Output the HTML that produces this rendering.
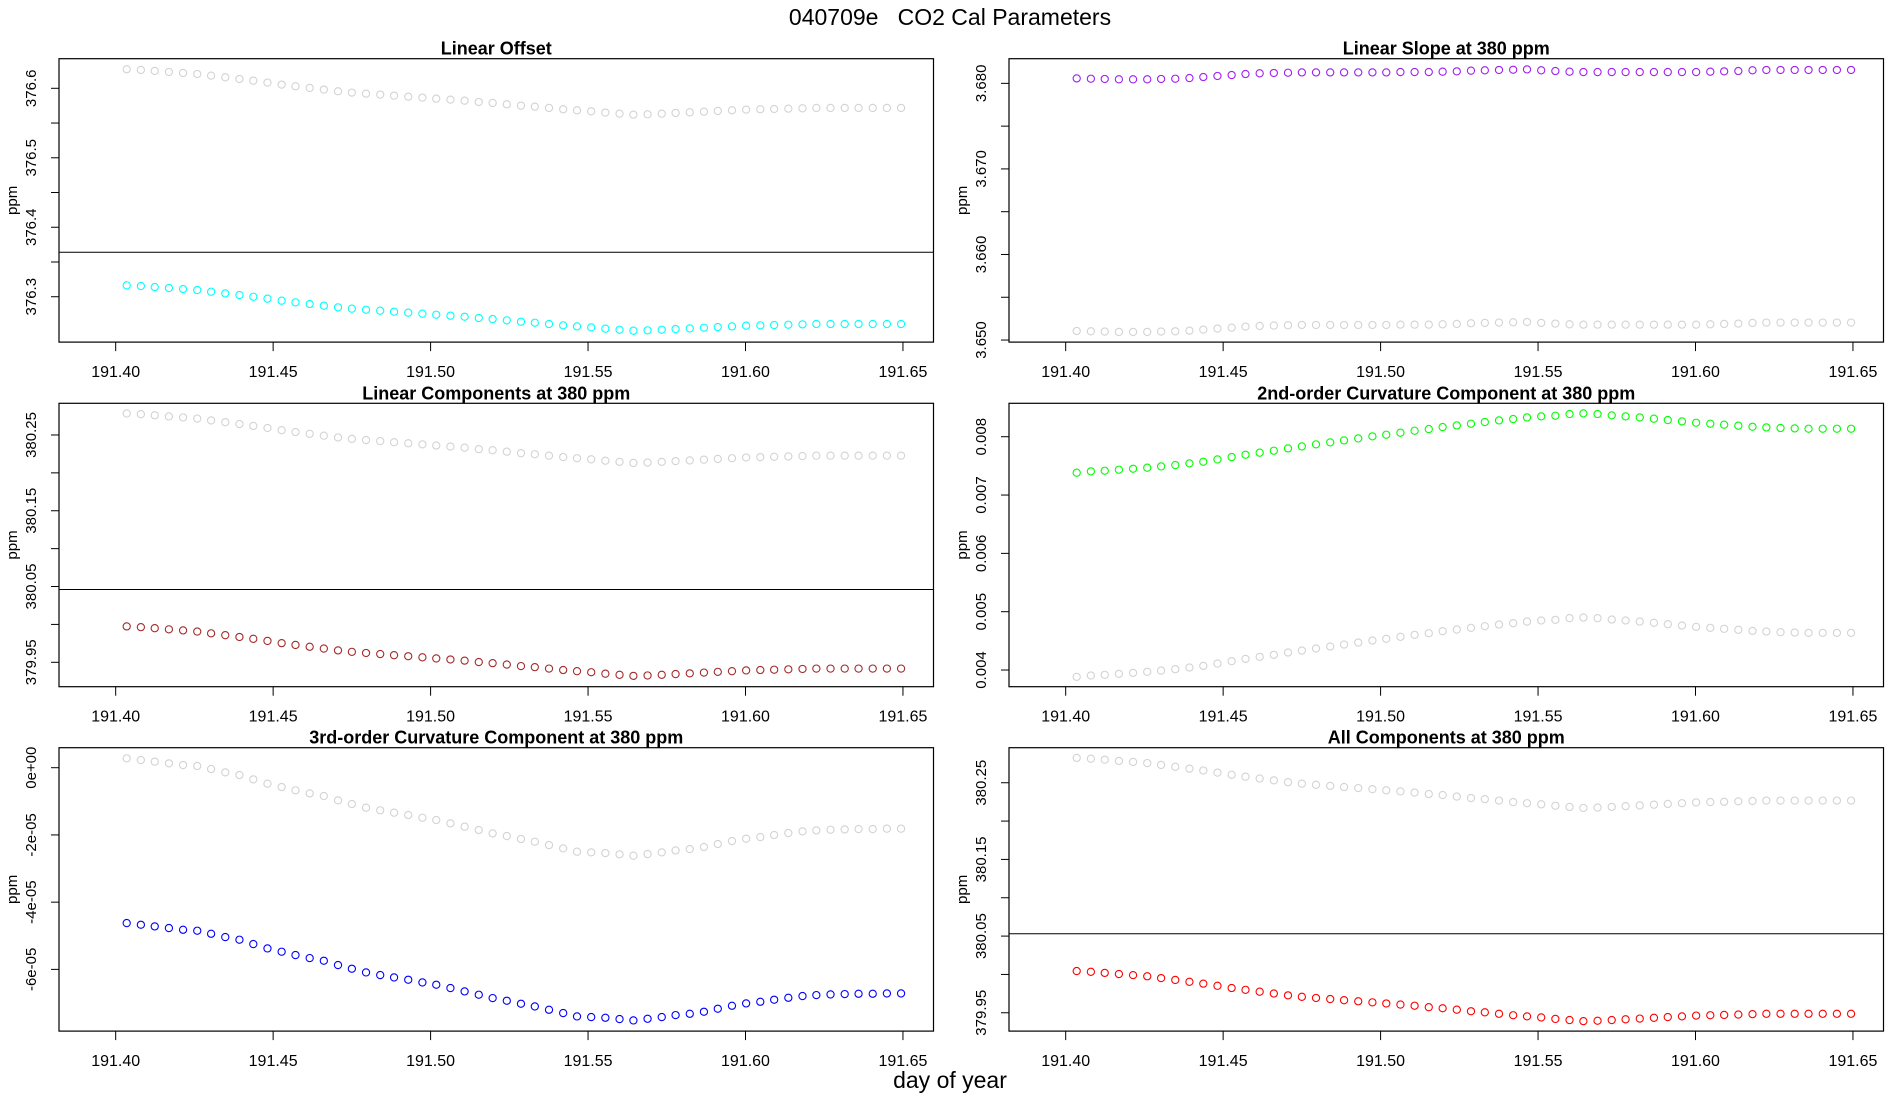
<!DOCTYPE html>
<html><head><meta charset="utf-8"><style>
html,body{margin:0;padding:0;background:#fff;}
svg{display:block;font-family:"Liberation Sans",Arial,sans-serif;}
</style></head><body>
<svg id="fig" width="1900" height="1100" viewBox="0 0 1900 1100">
<text x="950" y="25" text-anchor="middle" font-size="23" style="white-space:pre">040709e&#160;&#160;&#160;CO2 Cal Parameters</text>
<text x="950" y="1088" text-anchor="middle" font-size="23">day of year</text>
</svg>
<script>
// shared x positions (day of year) for all series
const xDays = [191.4035,191.4080,191.4124,191.4169,191.4214,191.4259,191.4303,191.4348,191.4393,191.4437,191.4482,191.4527,191.4571,191.4616,191.4661,191.4706,191.4750,191.4795,191.4840,191.4884,191.4929,191.4974,191.5018,191.5063,191.5108,191.5153,191.5197,191.5242,191.5287,191.5331,191.5376,191.5421,191.5465,191.5510,191.5555,191.5600,191.5644,191.5689,191.5734,191.5778,191.5823,191.5868,191.5912,191.5957,191.6002,191.6047,191.6091,191.6136,191.6181,191.6225,191.6270,191.6315,191.6359,191.6404,191.6449,191.6494];
const xTicks = [191.40,191.45,191.50,191.55,191.60,191.65];
const xTickLabels = ["191.40","191.45","191.50","191.55","191.60","191.65"];

const offsetGray = [376.6274,376.6264,376.6250,376.6235,376.6221,376.6206,376.6182,376.6158,376.6134,376.6110,376.6082,376.6053,376.6029,376.6005,376.5981,376.5957,376.5938,376.5923,376.5909,376.5894,376.5880,376.5866,376.5851,376.5837,376.5822,376.5803,376.5789,376.5770,376.5750,376.5736,376.5717,376.5698,376.5683,376.5669,376.5650,376.5635,376.5621,376.5626,376.5635,376.5645,376.5654,376.5664,376.5674,376.5683,376.5693,376.5698,376.5702,376.5707,376.5712,376.5717,376.5717,376.5717,376.5717,376.5717,376.5717,376.5717];
const offsetCyan = [376.3164,376.3154,376.3140,376.3125,376.3111,376.3096,376.3072,376.3048,376.3024,376.3000,376.2972,376.2943,376.2919,376.2895,376.2871,376.2847,376.2828,376.2813,376.2799,376.2784,376.2770,376.2756,376.2741,376.2727,376.2712,376.2693,376.2679,376.2660,376.2640,376.2626,376.2607,376.2588,376.2573,376.2559,376.2540,376.2525,376.2511,376.2516,376.2525,376.2535,376.2544,376.2554,376.2564,376.2573,376.2583,376.2588,376.2592,376.2597,376.2602,376.2607,376.2607,376.2607,376.2607,376.2607,376.2607,376.2607];
const offsetRef = [376.364];

const slopePurple = [3.68058,3.68054,3.68051,3.68047,3.68047,3.68047,3.68051,3.68054,3.68062,3.68074,3.68086,3.68097,3.68109,3.68117,3.68121,3.68124,3.68128,3.68128,3.68128,3.68128,3.68128,3.68128,3.68128,3.68132,3.68132,3.68132,3.68136,3.68140,3.68148,3.68152,3.68156,3.68159,3.68163,3.68152,3.68144,3.68136,3.68132,3.68132,3.68132,3.68132,3.68132,3.68132,3.68132,3.68132,3.68132,3.68136,3.68140,3.68144,3.68152,3.68156,3.68156,3.68156,3.68156,3.68156,3.68156,3.68156];
const slopeGray = [3.65106,3.65102,3.65099,3.65095,3.65095,3.65095,3.65099,3.65102,3.65110,3.65122,3.65134,3.65145,3.65157,3.65165,3.65169,3.65172,3.65176,3.65176,3.65176,3.65176,3.65176,3.65176,3.65176,3.65180,3.65180,3.65180,3.65184,3.65188,3.65196,3.65200,3.65204,3.65207,3.65211,3.65200,3.65192,3.65184,3.65180,3.65180,3.65180,3.65180,3.65180,3.65180,3.65180,3.65180,3.65180,3.65184,3.65188,3.65192,3.65200,3.65204,3.65204,3.65204,3.65204,3.65204,3.65204,3.65204];

const linGray = [380.2784,380.2774,380.2760,380.2745,380.2731,380.2716,380.2692,380.2668,380.2644,380.2620,380.2592,380.2563,380.2539,380.2515,380.2491,380.2467,380.2448,380.2433,380.2419,380.2404,380.2390,380.2376,380.2361,380.2347,380.2332,380.2313,380.2299,380.2280,380.2260,380.2246,380.2227,380.2208,380.2193,380.2179,380.2160,380.2145,380.2131,380.2136,380.2145,380.2155,380.2164,380.2174,380.2184,380.2193,380.2203,380.2208,380.2212,380.2217,380.2222,380.2227,380.2227,380.2227,380.2227,380.2227,380.2227,380.2227];
const linBrown = [379.9974,379.9964,379.9950,379.9935,379.9921,379.9906,379.9882,379.9858,379.9834,379.9810,379.9782,379.9753,379.9729,379.9705,379.9681,379.9657,379.9638,379.9623,379.9609,379.9594,379.9580,379.9566,379.9551,379.9537,379.9522,379.9503,379.9489,379.9470,379.9450,379.9436,379.9417,379.9398,379.9383,379.9369,379.9350,379.9335,379.9321,379.9326,379.9335,379.9345,379.9354,379.9364,379.9374,379.9383,379.9393,379.9398,379.9402,379.9407,379.9412,379.9417,379.9417,379.9417,379.9417,379.9417,379.9417,379.9417];
const linRef = [380.046];

const curv2Green = [0.007383,0.007406,0.007417,0.007434,0.007451,0.007469,0.007491,0.007514,0.007543,0.007571,0.007611,0.007651,0.007691,0.007726,0.007760,0.007800,0.007834,0.007869,0.007903,0.007937,0.007971,0.008006,0.008034,0.008069,0.008103,0.008131,0.008166,0.008194,0.008223,0.008251,0.008280,0.008303,0.008331,0.008349,0.008360,0.008389,0.008400,0.008389,0.008366,0.008349,0.008331,0.008309,0.008286,0.008263,0.008240,0.008223,0.008206,0.008189,0.008171,0.008160,0.008149,0.008143,0.008137,0.008137,0.008137,0.008137];
const curv2Gray = [0.003883,0.003906,0.003917,0.003934,0.003951,0.003969,0.003991,0.004014,0.004043,0.004071,0.004111,0.004151,0.004191,0.004226,0.004260,0.004300,0.004334,0.004369,0.004403,0.004437,0.004471,0.004506,0.004534,0.004569,0.004603,0.004631,0.004666,0.004694,0.004723,0.004751,0.004780,0.004803,0.004831,0.004849,0.004860,0.004889,0.004900,0.004889,0.004866,0.004849,0.004831,0.004809,0.004786,0.004763,0.004740,0.004723,0.004706,0.004689,0.004671,0.004660,0.004649,0.004643,0.004637,0.004637,0.004637,0.004637];

const curv3Gray = [0.278e-5,0.228e-5,0.179e-5,0.129e-5,0.079e-5,0.050e-5,-0.040e-5,-0.139e-5,-0.218e-5,-0.347e-5,-0.476e-5,-0.575e-5,-0.674e-5,-0.764e-5,-0.843e-5,-0.972e-5,-1.081e-5,-1.190e-5,-1.269e-5,-1.339e-5,-1.408e-5,-1.488e-5,-1.557e-5,-1.656e-5,-1.755e-5,-1.854e-5,-1.954e-5,-2.033e-5,-2.122e-5,-2.202e-5,-2.301e-5,-2.400e-5,-2.499e-5,-2.519e-5,-2.539e-5,-2.578e-5,-2.618e-5,-2.569e-5,-2.519e-5,-2.460e-5,-2.420e-5,-2.360e-5,-2.271e-5,-2.182e-5,-2.112e-5,-2.063e-5,-2.003e-5,-1.944e-5,-1.894e-5,-1.865e-5,-1.845e-5,-1.835e-5,-1.825e-5,-1.825e-5,-1.815e-5,-1.815e-5];
const curv3Blue = [-4.622e-5,-4.672e-5,-4.721e-5,-4.771e-5,-4.821e-5,-4.850e-5,-4.940e-5,-5.039e-5,-5.118e-5,-5.247e-5,-5.376e-5,-5.475e-5,-5.574e-5,-5.664e-5,-5.743e-5,-5.872e-5,-5.981e-5,-6.090e-5,-6.169e-5,-6.239e-5,-6.308e-5,-6.388e-5,-6.457e-5,-6.556e-5,-6.655e-5,-6.754e-5,-6.854e-5,-6.933e-5,-7.022e-5,-7.102e-5,-7.201e-5,-7.300e-5,-7.399e-5,-7.419e-5,-7.439e-5,-7.478e-5,-7.518e-5,-7.469e-5,-7.419e-5,-7.360e-5,-7.320e-5,-7.260e-5,-7.171e-5,-7.082e-5,-7.012e-5,-6.963e-5,-6.903e-5,-6.844e-5,-6.794e-5,-6.765e-5,-6.745e-5,-6.735e-5,-6.725e-5,-6.725e-5,-6.715e-5,-6.715e-5];

const allGray = [380.2824,380.2814,380.2800,380.2785,380.2771,380.2756,380.2732,380.2708,380.2684,380.2660,380.2632,380.2603,380.2579,380.2555,380.2531,380.2507,380.2488,380.2473,380.2459,380.2444,380.2430,380.2416,380.2401,380.2387,380.2372,380.2353,380.2339,380.2320,380.2300,380.2286,380.2267,380.2248,380.2233,380.2219,380.2200,380.2185,380.2171,380.2176,380.2185,380.2195,380.2204,380.2214,380.2224,380.2233,380.2243,380.2248,380.2252,380.2257,380.2262,380.2267,380.2267,380.2267,380.2267,380.2267,380.2267,380.2267];
const allRed = [380.0044,380.0034,380.0020,380.0005,379.9991,379.9976,379.9952,379.9928,379.9904,379.9880,379.9852,379.9823,379.9799,379.9775,379.9751,379.9727,379.9708,379.9693,379.9679,379.9664,379.9650,379.9636,379.9621,379.9607,379.9592,379.9573,379.9559,379.9540,379.9520,379.9506,379.9487,379.9468,379.9453,379.9439,379.9420,379.9405,379.9391,379.9396,379.9405,379.9415,379.9424,379.9434,379.9444,379.9453,379.9463,379.9468,379.9472,379.9477,379.9482,379.9487,379.9487,379.9487,379.9487,379.9487,379.9487,379.9487];
const allRef = [380.053];

const yTicksOffset = [376.3,376.35,376.4,376.45,376.5,376.55,376.6];
const yLabelsOffset = ["376.3","","376.4","","376.5","","376.6"];
const yTicksSlope = [3.650,3.655,3.660,3.665,3.670,3.675,3.680];
const yLabelsSlope = ["3.650","","3.660","","3.670","","3.680"];
const yTicksLin = [379.95,380.00,380.05,380.10,380.15,380.20,380.25];
const yLabelsLin = ["379.95","","380.05","","380.15","","380.25"];
const yTicksC2 = [0.004,0.005,0.006,0.007,0.008];
const yLabelsC2 = ["0.004","0.005","0.006","0.007","0.008"];
const yTicksC3 = [0,-2e-5,-4e-5,-6e-5];
const yLabelsC3 = ["0e+00","-2e-05","-4e-05","-6e-05"];

const NS = "http://www.w3.org/2000/svg";
const svg = document.getElementById('fig');
function mk(tag, attrs, parent){const e=document.createElementNS(NS,tag);for(const k in attrs)e.setAttribute(k,attrs[k]);(parent||svg).appendChild(e);return e;}

const XMIN=191.382, XMAX=191.6597;
const panels = [
 {key:'linear-offset',title:'Linear Offset',L:59,T:58.7,ymin:376.2347,ymax:376.6426,series:[[offsetGray,'#d3d3d3'],[offsetCyan,'#00ffff']],ref:offsetRef,ticks:yTicksOffset,labels:yLabelsOffset},
 {key:'linear-slope',title:'Linear Slope at 380 ppm',L:1009,T:58.7,ymin:3.64976,ymax:3.68288,series:[[slopeGray,'#d3d3d3'],[slopePurple,'#a020f0']],ref:null,ticks:yTicksSlope,labels:yLabelsSlope},
 {key:'linear-components',title:'Linear Components at 380 ppm',L:59,T:403.3,ymin:379.9178,ymax:380.2918,series:[[linGray,'#d3d3d3'],[linBrown,'#a52a2a']],ref:linRef,ticks:yTicksLin,labels:yLabelsLin},
 {key:'curvature-2nd',title:'2nd-order Curvature Component at 380 ppm',L:1009,T:403.3,ymin:0.003714,ymax:0.008573,series:[[curv2Gray,'#d3d3d3'],[curv2Green,'#00ff00']],ref:null,ticks:yTicksC2,labels:yLabelsC2},
 {key:'curvature-3rd',title:'3rd-order Curvature Component at 380 ppm',L:59,T:747.7,ymin:-7.836e-5,ymax:0.595e-5,series:[[curv3Gray,'#d3d3d3'],[curv3Blue,'#0000ff']],ref:null,ticks:yTicksC3,labels:yLabelsC3},
 {key:'all-components',title:'All Components at 380 ppm',L:1009,T:747.7,ymin:379.9261,ymax:380.2957,series:[[allGray,'#d3d3d3'],[allRed,'#ff0000']],ref:allRef,ticks:yTicksLin,labels:yLabelsLin}
];
const W=874.5, H=283.4;
panels.forEach(p=>{
  const g=mk('g',{});
  
  
  const xs=v=>p.L+(v-XMIN)/(XMAX-XMIN)*W;
  const ys=v=>p.T+H-(v-p.ymin)/(p.ymax-p.ymin)*H;
  const t=mk('text',{x:p.L+W/2,y:p.T-4,'text-anchor':'middle','font-size':'18','font-weight':'bold'},g);
  t.textContent=p.title;
  
  
  const yl=mk('text',{x:0,y:0,'text-anchor':'middle','font-size':'15',transform:`translate(${p.L-42},${p.T+H/2}) rotate(-90)`},g);
  yl.textContent='ppm';
  
  
  p.ticks.forEach((tv,i)=>{
    const y=ys(tv);
    const tk=mk('line',{x1:p.L-8,x2:p.L,y1:y,y2:y,stroke:'#000','stroke-width':1},g);
    
    
    if(p.labels[i]){
      const lb=mk('text',{x:0,y:0,'text-anchor':'middle','font-size':'15',transform:`translate(${p.L-23},${y}) rotate(-90)`},g);
      lb.textContent=p.labels[i];
      
      
    }
  });
  xTicks.forEach((tv,i)=>{
    const x=xs(tv);
    const tk=mk('line',{x1:x,x2:x,y1:p.T+H,y2:p.T+H+9,stroke:'#000','stroke-width':1},g);
    
    
    const lb=mk('text',{x:x,y:p.T+H+35,'text-anchor':'middle','font-size':'16'},g);
    lb.textContent=xTickLabels[i];
    
    
  });
  p.series.forEach(([arr,col],si)=>{
    arr.forEach((v,i)=>{
      const c=mk('circle',{cx:xs(xDays[i]),cy:ys(v),r:3.6,fill:'none',stroke:col,'stroke-width':1.1},g);
      
      
    });
  });
  if(p.ref){
    const y=ys(p.ref[0]);
    const ln=mk('line',{x1:p.L,x2:p.L+W,y1:y,y2:y,stroke:'#000','stroke-width':1},g);
    
    
  }
  const box=mk('rect',{x:p.L,y:p.T,width:W,height:H,fill:'none',stroke:'#000','stroke-width':1.2},g);
  
  
});
</script>
</body></html>
